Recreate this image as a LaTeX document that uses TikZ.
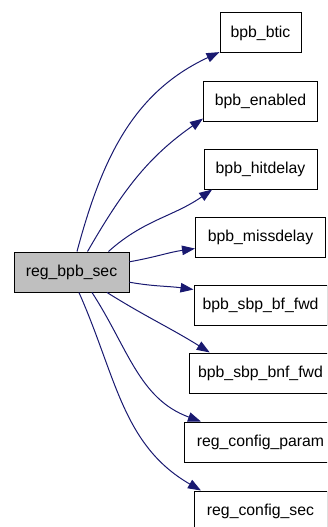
\documentclass[tikz,border=0pt]{standalone}
\usepackage{fontspec}
\setmainfont{Liberation Sans}
\usetikzlibrary{arrows.meta}
\definecolor{callblue}{HTML}{191970}
\definecolor{rootgray}{HTML}{BFBFBF}
\begin{document}
\begin{tikzpicture}[x=1pt, y=1pt,
    func/.style={rectangle, draw, line width=1pt, fill=white, minimum height=40pt, inner sep=0pt, font=\fontsize{15.8}{19}\selectfont},
    root/.style={func, fill=rootgray},
    call/.style={draw=callblue, line width=1pt, -{Triangle[length=13pt, width=9.5pt]}, callblue}
]
\clip (0,0) rectangle (327,-527);
\node[root, minimum width=115pt] (src) at (71.5,-272) {reg\_bpb\_sec};

\node[func, minimum width=81pt]  (btic)      at (260.5,-33)  {bpb\_btic};
\node[func, minimum width=114pt] (enabled)   at (260.5,-101) {bpb\_enabled};
\node[func, minimum width=113pt] (hitdelay)  at (260.5,-169) {bpb\_hitdelay};
\node[func, minimum width=130pt] (missdelay) at (260.5,-237) {bpb\_missdelay};
\node[func, minimum width=133pt] (bffwd)     at (260.5,-305) {bpb\_sbp\_bf\_fwd};
\node[func, minimum width=143pt] (bnffwd)    at (260.5,-373) {bpb\_sbp\_bnf\_fwd};
\node[func, minimum width=153pt] (cfgparam)  at (260.5,-442) {reg\_config\_param};
\node[func, minimum width=133pt] (cfgsec)    at (260.5,-511) {reg\_config\_sec};

% calls
\draw[call] (src.75)  to[out=75, in=205]  (btic.205);
\draw[call] (src.52)  to[out=60, in=215]  (enabled.197);
\draw[call] (src.29)  to[out=42, in=215]  (hitdelay.203);
\draw[call] (src.10)  to[out=10, in=188]  (missdelay.190);
\draw[call] (src.350) to[out=-10, in=172] (bffwd.167);
\draw[call] (src.330) to[out=-32, in=148] (bnffwd.158);
\draw[call] (src.315) to[out=-57, in=160] (cfgparam.161);
\draw[call] (src.290) to[out=-66, in=150] (cfgsec.161);
\end{tikzpicture}
\end{document}
